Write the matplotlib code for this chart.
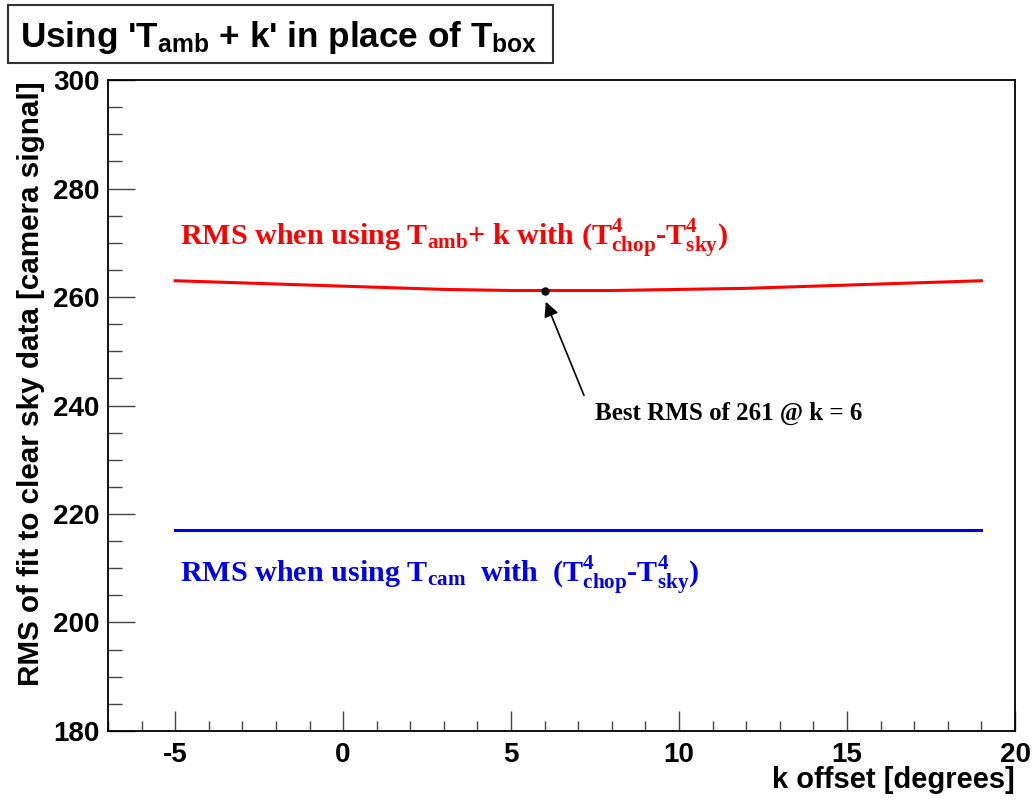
import matplotlib
matplotlib.use("Agg")
import matplotlib.pyplot as plt
from matplotlib.patches import Rectangle

# k offsets and RMS values
k_offset = [-5, -4, -3, -2, -1, 0, 1, 2, 3, 4, 5, 6, 7, 8, 9, 10, 11, 12,
            13, 14, 15, 16, 17, 18, 19]
rms_amb = [263.0, 262.8, 262.6, 262.4, 262.2, 262.0, 261.8, 261.6, 261.4,
           261.3, 261.2, 261.2, 261.2, 261.2, 261.3, 261.4, 261.5, 261.6,
           261.8, 262.0, 262.2, 262.4, 262.6, 262.8, 263.0]
rms_cam = [217.0] * len(k_offset)

best_k = 6
best_rms = 261.2

plt.rcParams["axes.unicode_minus"] = False
plt.rcParams["mathtext.fontset"] = "custom"
plt.rcParams["mathtext.rm"] = "Liberation Serif:bold"
plt.rcParams["mathtext.it"] = "Liberation Serif:bold"
plt.rcParams["mathtext.bf"] = "Liberation Serif:bold"
plt.rcParams["mathtext.sf"] = "Liberation Sans:bold"

fig = plt.figure(figsize=(10.35, 8.01), dpi=100)
ax = fig.add_axes([0.1043, 0.0874, 0.8764, 0.8127])

ax.plot(k_offset, rms_amb, color="#ff0000", lw=2.2)
ax.plot(k_offset, rms_cam, color="#0000ee", lw=2.2)
ax.plot([best_k], [best_rms], "o", color="black", ms=5)

ax.annotate("", xy=(best_k, best_rms - 1.6), xytext=(7.2, 241.4),
            arrowprops=dict(arrowstyle="-|>", color="black", lw=1.2,
                            mutation_scale=22))
ax.text(7.5, 237.3, "Best RMS of 261 @ k = 6", fontsize=18,
        family="Liberation Serif", weight="bold", va="baseline")

ax.text(-4.85, 269.6,
        r"RMS when using $\mathrm{T_{amb}}$+ k with ($\mathrm{T_{chop}^{4}}$-$\mathrm{T_{sky}^{4}}$)",
        fontsize=21.7, family="Liberation Serif", weight="bold",
        color="#ff0000", va="baseline")
ax.text(-4.85, 207.5,
        r"RMS when using $\mathrm{T_{cam}}$  with  ($\mathrm{T_{chop}^{4}}$-$\mathrm{T_{sky}^{4}}$)",
        fontsize=21.7, family="Liberation Serif", weight="bold",
        color="#0000ee", va="baseline")

ax.set_xlim(-7, 20)
ax.set_ylim(180, 300)
ax.set_xticks([-5, 0, 5, 10, 15, 20])
ax.set_xticks(range(-7, 21), minor=True)
ax.set_yticks(range(180, 301, 20))
ax.set_yticks(range(180, 301, 5), minor=True)
ax.tick_params(which="both", direction="in", top=False, right=False,
               color="#444444", width=1)
ax.tick_params(axis="x", which="major", length=14.4, pad=8)
ax.tick_params(axis="x", which="minor", length=7.2)
ax.tick_params(axis="y", which="major", length=19.5, pad=6)
ax.tick_params(axis="y", which="minor", length=9.8)
for lab in ax.get_xticklabels() + ax.get_yticklabels():
    lab.set_family("Liberation Sans")
    lab.set_weight("bold")
    lab.set_fontsize(20)
for sp in ax.spines.values():
    sp.set_linewidth(1.3)

ax.set_ylabel("RMS of fit to clear sky data [camera signal]", family="Liberation Sans",
              weight="bold", fontsize=21.3)
ax.yaxis.set_label_coords(-0.0695, 0.533)
ax.set_xlabel("k offset [degrees]", family="Liberation Sans", weight="bold",
              fontsize=21)
ax.xaxis.set_label_coords(1.0, -0.0876)
ax.xaxis.label.set_horizontalalignment("right")
ax.xaxis.label.set_verticalalignment("baseline")

fig.patches.append(Rectangle((8 / 1035, 1 - 63 / 801), 545 / 1035, 58 / 801,
                             transform=fig.transFigure, fill=False,
                             edgecolor="#333333", lw=1.5))
fig.text(20 / 1035, 1 - 47 / 801,
         r"Using 'T$\mathsf{_{amb}}$ + k' in place of T$\mathsf{_{box}}$",
         family="Liberation Sans", weight="bold", fontsize=25.3, va="baseline")

fig.savefig("out.png", dpi=100)
